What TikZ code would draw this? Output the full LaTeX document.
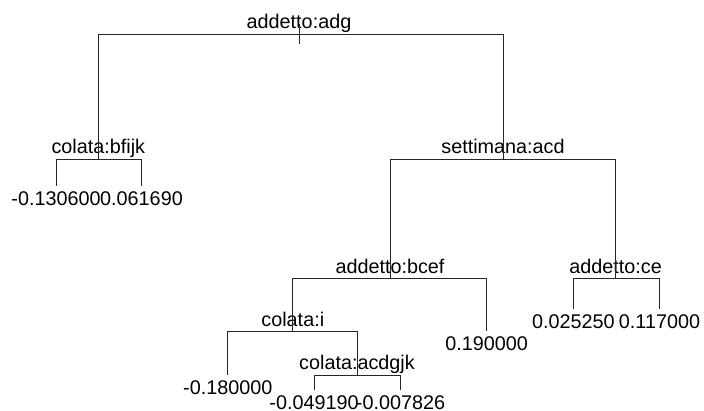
\documentclass[tikz,border=0pt]{standalone}
\usepackage{fontspec}
\setmainfont{Liberation Sans}
\begin{document}
\begin{tikzpicture}[x=1pt,y=-1pt,
  edge/.style={line width=1pt, draw=black!85},
  lab/.style={anchor=base, inner sep=0pt, text=black, font=\fontsize{19.8}{22}\selectfont}]
\useasboundingbox (0,0) rectangle (704,410);
% split points
\coordinate (n1) at (299,34);
\coordinate (n2) at (98.3,159);
\coordinate (n3) at (503,159);
\coordinate (n4) at (390,278);
\coordinate (n5) at (615.6,278);
\coordinate (n6) at (292.8,331);
\coordinate (n7) at (357,375);
% leaves
\coordinate (l1) at (56,186);
\coordinate (l2) at (141.5,186);
\coordinate (l3) at (486.7,331);
\coordinate (l4) at (573.3,309.3);
\coordinate (l5) at (659.5,309.3);
\coordinate (l6) at (227.8,375);
\coordinate (l7) at (314,390);
\coordinate (l8) at (400.5,390);
\coordinate (tk) at (299,24);
\coordinate (tb) at (299,44);
% split labels
\node[lab] (t1) at (299,28.5) {addetto:adg};
\node[lab] (t2) at (98.3,153.5) {colata:bfijk};
\node[lab] (t3) at (503,153.5) {settimana:acd};
\node[lab] (t4) at (390,273.5) {addetto:bcef};
\node[lab] (t5) at (615.6,273.5) {addetto:ce};
\node[lab] (t6) at (292.8,326.5) {colata:i};
\node[lab] (t7) at (357,369.5) {colata:acdgjk};
% leaf labels
\node[lab] (v1) at (56,205.5) {-0.130600};
\node[lab] (v2) at (141.5,205.5) {0.061690};
\node[lab] (v3) at (486.7,350.5) {0.190000};
\node[lab] (v4) at (573.3,328.8) {0.025250};
\node[lab] (v5) at (659.5,328.8) {0.117000};
\node[lab] (v6) at (227.8,394.5) {-0.180000};
\node[lab] (v7) at (314,409.5) {-0.049190};
\node[lab] (v8) at (400.5,409.5) {-0.007826};
% edges
\draw[edge] (tk) -- (tb);
\draw[edge] (n2) -- (n2 |- n1) -- (n3 |- n1) -- (n3);
\draw[edge] (l1) -- (l1 |- n2) -- (l2 |- n2) -- (l2);
\draw[edge] (n4) -- (n4 |- n3) -- (n5 |- n3) -- (n5);
\draw[edge] (n6) -- (n6 |- n4) -- (l3 |- n4) -- (l3);
\draw[edge] (l4) -- (l4 |- n5) -- (l5 |- n5) -- (l5);
\draw[edge] (l6) -- (l6 |- n6) -- (n7 |- n6) -- (n7);
\draw[edge] (l7) -- (l7 |- n7) -- (l8 |- n7) -- (l8);
\end{tikzpicture}
\end{document}
